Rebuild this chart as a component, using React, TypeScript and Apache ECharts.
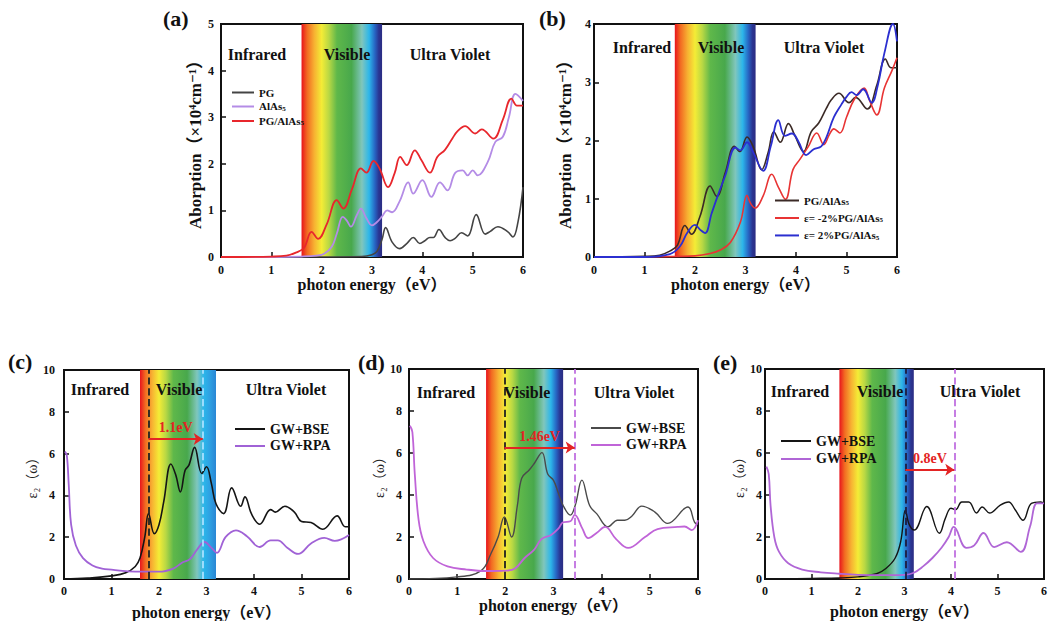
import React, { useEffect, useRef } from "react";
import * as echarts from "echarts";

const F = '"Liberation Serif", "DejaVu Serif", "Noto Sans CJK SC", serif';

// ---------- data (x: photon energy eV, y) ----------
const pgA: number[][] = [[0,0],[1,0],[2,0],[2.8,0.01],[3.0,0.05],[3.1,0.12],[3.2,0.38],[3.27,0.63],[3.4,0.32],[3.55,0.18],[3.7,0.3],[3.82,0.42],[3.95,0.29],[4.05,0.35],[4.15,0.42],[4.22,0.42],[4.33,0.59],[4.45,0.42],[4.55,0.35],[4.65,0.4],[4.78,0.52],[4.9,0.45],[5.07,0.91],[5.25,0.49],[5.35,0.55],[5.5,0.65],[5.7,0.54],[5.8,0.43],[5.9,0.75],[6.0,1.5]];
const alAs5A: number[][] = [[0,0],[1,0],[1.6,0.01],[1.9,0.03],[2.05,0.07],[2.2,0.22],[2.3,0.5],[2.42,0.86],[2.5,0.78],[2.58,0.65],[2.7,0.9],[2.78,1.04],[2.88,0.85],[3.0,0.68],[3.1,0.75],[3.2,0.87],[3.3,1.0],[3.4,0.96],[3.55,1.2],[3.72,1.6],[3.82,1.36],[4.0,1.65],[4.18,1.29],[4.35,1.6],[4.5,1.43],[4.65,1.8],[4.8,1.86],[4.9,1.75],[5.0,1.86],[5.1,1.75],[5.3,2.04],[5.45,2.47],[5.6,2.58],[5.72,3.0],[5.85,3.5],[6.0,3.35]];
const pgAlAs5: number[][] = [[0,0],[1,0.01],[1.3,0.03],[1.5,0.1],[1.65,0.2],[1.8,0.54],[1.93,0.39],[2.1,0.7],[2.3,1.22],[2.43,1.04],[2.6,1.45],[2.78,1.9],[2.89,1.81],[3.03,2.06],[3.15,1.9],[3.32,1.5],[3.45,1.8],[3.56,2.15],[3.69,1.97],[3.85,2.29],[3.98,2.08],[4.15,1.81],[4.3,2.15],[4.45,2.3],[4.6,2.55],[4.7,2.7],[4.85,2.81],[5.05,2.65],[5.18,2.74],[5.41,2.54],[5.6,2.95],[5.77,3.4],[5.88,3.25],[6.0,3.25]];
const strainMinus2: number[][] = [[0,0],[1,0],[2,0.02],[2.3,0.06],[2.5,0.12],[2.7,0.25],[2.9,0.6],[3.03,1.06],[3.1,0.92],[3.19,0.84],[3.35,1.05],[3.52,1.42],[3.65,1.2],[3.79,0.99],[3.94,1.5],[4.08,1.68],[4.24,1.89],[4.41,2.13],[4.55,1.93],[4.66,2.1],[4.75,2.2],[4.87,2.13],[5.0,2.4],[5.15,2.7],[5.35,2.9],[5.45,2.7],[5.6,2.44],[5.75,2.9],[5.9,3.2],[6.0,3.42]];
const strainPlus2: number[][] = [[0,0],[1,0],[1.5,0.05],[1.7,0.18],[1.85,0.42],[2.0,0.55],[2.1,0.47],[2.2,0.41],[2.33,0.75],[2.45,1.05],[2.6,1.4],[2.8,1.88],[2.9,1.83],[3.03,1.97],[3.15,1.8],[3.35,1.48],[3.5,1.9],[3.65,2.35],[3.78,2.08],[3.92,2.12],[4.05,1.98],[4.2,1.75],[4.35,1.85],[4.5,1.9],[4.6,2.05],[4.75,2.4],[4.9,2.62],[5.0,2.75],[5.1,2.83],[5.2,2.78],[5.33,2.88],[5.5,2.65],[5.62,2.95],[5.75,3.5],[5.92,4.0],[6.0,3.7]];

const bseC: number[][] = [[0,0],[0.5,0.05],[1.0,0.15],[1.3,0.3],[1.5,0.6],[1.6,1.0],[1.7,2.0],[1.78,3.13],[1.9,2.17],[2.0,2.6],[2.1,3.7],[2.25,5.5],[2.35,5.0],[2.45,4.17],[2.55,5.2],[2.63,5.45],[2.75,6.3],[2.9,5.05],[3.0,5.37],[3.1,4.6],[3.2,3.6],[3.36,3.13],[3.53,4.36],[3.72,3.48],[3.81,3.93],[3.95,3.1],[4.12,2.62],[4.35,3.32],[4.45,3.2],[4.65,3.48],[4.85,3.2],[5.0,2.75],[5.2,2.7],[5.45,2.38],[5.75,3.02],[5.92,2.5],[6.0,2.5]];
const rpaC: number[][] = [[0.02,6.1],[0.06,5.9],[0.1,4.5],[0.15,2.6],[0.25,1.6],[0.4,1.0],[0.6,0.65],[0.8,0.5],[1.0,0.45],[1.5,0.35],[2.0,0.35],[2.3,0.5],[2.5,0.8],[2.65,0.95],[2.8,1.4],[2.96,1.77],[3.1,1.5],[3.22,1.25],[3.4,2.0],[3.62,2.33],[3.85,2.05],[4.12,1.53],[4.35,1.85],[4.5,1.85],[4.7,1.5],[4.93,1.2],[5.2,1.7],[5.48,1.97],[5.7,1.82],[6.0,2.1]];
const bseD: number[][] = [[0,0],[1,0.1],[1.5,0.4],[1.7,1.2],[1.85,2.0],[1.98,2.96],[2.13,2.0],[2.25,3.5],[2.34,4.8],[2.5,5.2],[2.6,5.5],[2.76,6.02],[2.88,5.0],[3.0,4.7],[3.1,4.1],[3.2,3.5],[3.35,3.04],[3.45,3.5],[3.59,4.71],[3.75,3.5],[3.9,3.1],[4.13,2.48],[4.33,2.8],[4.48,2.8],[4.63,3.0],[4.83,3.47],[5.1,3.2],[5.37,2.65],[5.79,3.43],[5.93,2.7],[6.0,2.6]];
const rpaD: number[][] = [[0.02,7.3],[0.07,7.0],[0.12,5.0],[0.2,2.8],[0.3,1.8],[0.5,1.0],[0.8,0.6],[1.2,0.45],[1.6,0.38],[2.0,0.4],[2.2,0.5],[2.4,1.0],[2.6,1.4],[2.75,1.9],[2.95,2.1],[3.1,2.4],[3.2,2.7],[3.35,2.75],[3.44,3.05],[3.6,2.4],[3.72,1.95],[3.9,2.2],[4.07,2.48],[4.3,1.9],[4.55,1.48],[4.9,2.0],[5.16,2.38],[5.58,2.48],[5.72,2.5],[5.87,2.33],[6.0,2.8]];
const bseE: number[][] = [[0,0],[1,0.03],[1.6,0.05],[2.0,0.1],[2.4,0.25],[2.6,0.5],[2.8,1.0],[2.92,1.8],[3.02,3.28],[3.1,2.6],[3.21,2.33],[3.48,3.45],[3.75,2.18],[3.88,2.9],[4.0,3.37],[4.1,3.3],[4.23,3.67],[4.38,3.67],[4.55,3.14],[4.67,3.43],[4.83,3.14],[5.06,3.52],[5.24,3.67],[5.38,3.3],[5.55,2.8],[5.73,3.6],[5.93,3.67],[6.0,3.6]];
const rpaE: number[][] = [[0.03,5.35],[0.08,5.0],[0.12,3.5],[0.2,2.0],[0.3,1.3],[0.5,0.75],[0.8,0.45],[1.2,0.32],[1.6,0.25],[2.0,0.2],[2.5,0.18],[3.0,0.2],[3.2,0.3],[3.4,0.6],[3.6,1.0],[3.8,1.5],[3.95,2.0],[4.06,2.48],[4.33,1.48],[4.5,1.6],[4.7,2.19],[4.93,1.52],[5.2,1.75],[5.5,1.29],[5.7,2.5],[5.85,3.6],[6.0,3.6]];

const visibleRange = [1.6, 3.2];
const panelTitles = ["(a)", "(b)", "(c)", "(d)", "(e)"];
const regionNames = ["Infrared", "Visible", "Ultra Violet"];
const yMax = [5, 4, 10, 10, 10];
const yInterval = [1, 1, 2, 2, 2];
const excitonShift = [
  { from: 1.78, to: 2.92, y: 6.7, label: "1.1eV" },
  { from: 1.98, to: 3.44, y: 6.26, label: "1.46eV" },
  { from: 3.02, to: 4.07, y: 5.2, label: "0.8eV" },
];

// ---------- layout ----------
const grids = [
  { left: 221, top: 24, width: 302, height: 233 },
  { left: 594, top: 24, width: 303, height: 233 },
  { left: 64, top: 370, width: 285, height: 209 },
  { left: 409, top: 369, width: 289, height: 210 },
  { left: 765, top: 369, width: 288, height: 210 },
];

function band(endDark: boolean) {
  return new echarts.graphic.LinearGradient(0, 0, 1, 0, [
    { offset: 0, color: "#e8141c" },
    { offset: 0.07, color: "#f26a22" },
    { offset: 0.16, color: "#f7b232" },
    { offset: 0.25, color: "#f4ec36" },
    { offset: 0.34, color: "#b9d844" },
    { offset: 0.44, color: "#5fb84a" },
    { offset: 0.62, color: "#48a84c" },
    { offset: 0.75, color: "#80c6bc" },
    { offset: 0.84, color: "#2cb6ea" },
    endDark ? { offset: 0.91, color: "#2766c4" } : { offset: 0.92, color: "#2ea0e2" },
    endDark ? { offset: 0.96, color: "#2a3592" } : { offset: 1, color: "#2a86d4" },
    endDark ? { offset: 1, color: "#2b2c82" } : { offset: 1, color: "#2a86d4" },
  ]);
}

function bandArea(endDark: boolean) {
  return {
    silent: true,
    itemStyle: { color: band(endDark) },
    data: [[{ xAxis: visibleRange[0] }, { xAxis: visibleRange[1] }]],
  };
}

function line(name: string, data: number[][], color: string, idx: number, width = 1.6, extra: any = {}) {
  return {
    type: "line",
    name,
    data,
    xAxisIndex: idx,
    yAxisIndex: idx,
    symbol: "none",
    smooth: 0.4,
    lineStyle: { color, width },
    itemStyle: { color },
    z: 3,
    ...extra,
  };
}

function vDash(x: number, color: string) {
  return { xAxis: x, lineStyle: { color, type: "dashed", width: 1.8 } };
}

function arrow(k: number) {
  const s = excitonShift[k];
  return {
    silent: true,
    symbol: ["none", "arrow"],
    symbolSize: 9,
    lineStyle: { color: "#e32424", type: "solid", width: 1.8 },
    label: {
      show: true,
      position: "insideMiddleTop",
      formatter: s.label,
      color: "#e32424",
      fontFamily: F,
      fontWeight: "bold",
      fontSize: 14,
      distance: 4,
    },
    data: [[{ coord: [s.from, s.y] }, { coord: [s.to, s.y] }]],
  };
}

const tickMargins = [7, 3, 9, 7, 3];
const xNameGaps = [17, 17, 25, 18, 24];
const yNameGaps = [12, 20, 24, 14, 18];

export default function App() {
  const ref = useRef<HTMLDivElement>(null);
  useEffect(() => {
    const chart = echarts.init(ref.current!, null, { renderer: "svg" });

    const xAxis = grids.map((_, i) => ({
      type: "value",
      gridIndex: i,
      min: 0,
      max: 6,
      interval: 1,
      name: "photon energy（eV）",
      nameLocation: "middle",
      nameGap: xNameGaps[i],
      nameTextStyle: { fontFamily: F, fontWeight: "bold", fontSize: 16, color: "#111" },
      axisLine: { show: true, onZero: false, lineStyle: { color: "#111", width: 2 } },
      axisTick: { show: true, inside: true, length: 5, lineStyle: { color: "#111", width: 1.5 } },
      axisLabel: { color: "#111", fontFamily: F, fontWeight: "bold", fontSize: 12, margin: i < 2 ? 7 : 6 },
      splitLine: { show: false },
    }));

    const yAxis = grids.map((_, i) => ({
      type: "value",
      gridIndex: i,
      min: 0,
      max: yMax[i],
      interval: yInterval[i],
      name: i < 2 ? "Aborption（×10⁴cm⁻¹）" : "ε₂（ω）",
      nameLocation: "middle",
      nameGap: yNameGaps[i],
      nameTextStyle:
        i < 2
          ? { fontFamily: F, fontWeight: "bold", fontSize: 17, color: "#111" }
          : { fontFamily: F, fontWeight: "normal", fontSize: 14, color: "#222" },
      axisLine: { show: true, onZero: false, lineStyle: { color: "#111", width: 2 } },
      axisTick: { show: true, inside: true, length: 5, lineStyle: { color: "#111", width: 1.5 } },
      axisLabel: { color: "#111", fontFamily: F, fontWeight: "bold", fontSize: 12, margin: tickMargins[i] },
      splitLine: { show: false },
    }));

    const series: any[] = [
      // (a)
      line("PG", pgA, "#444444", 0, 1.6, { markArea: bandArea(true) }),
      line("AlAs5", alAs5A, "#b48ce6", 0, 1.8),
      line("PG/AlAs5", pgAlAs5, "#e8262c", 0, 1.8),
      // (b)
      line("PG/AlAs5", pgAlAs5, "#3b2a26", 1, 1.6, { markArea: bandArea(true) }),
      line("ε= -2%PG/AlAs5", strainMinus2, "#e83434", 1, 1.6),
      line("ε= 2%PG/AlAs5", strainPlus2, "#2b2fd0", 1, 1.8),
      // (c)
      line("GW+BSE", bseC, "#151515", 2, 1.6, {
        markArea: bandArea(false),
        markLine: { silent: true, symbol: ["none", "none"], label: { show: false }, data: [vDash(1.78, "#222222"), vDash(2.92, "#a8e0ff")] },
      }),
      line("GW+RPA", rpaC, "#a062d6", 2, 1.8, { markLine: arrow(0) }),
      // (d)
      line("GW+BSE", bseD, "#4a4a4a", 3, 1.4, {
        markArea: bandArea(true),
        markLine: { silent: true, symbol: ["none", "none"], label: { show: false }, data: [vDash(1.98, "#222222"), vDash(3.44, "#c070e0")] },
      }),
      line("GW+RPA", rpaD, "#c064d8", 3, 1.8, { markLine: arrow(1) }),
      // (e)
      line("GW+BSE", bseE, "#151515", 4, 1.4, {
        markArea: bandArea(true),
        markLine: { silent: true, symbol: ["none", "none"], label: { show: false }, data: [vDash(3.02, "#1c1c40"), vDash(4.07, "#c070e0")] },
      }),
      line("GW+RPA", rpaE, "#b066d6", 4, 1.8, { markLine: arrow(2) }),
    ];

    const sub = (n: string) => n.replace(/AlAs5$/, "AlAs{s|5}");
    const legendText = (size: number) => ({
      fontFamily: F,
      fontWeight: "bold",
      fontSize: size,
      color: "#111",
      rich: { s: { fontFamily: F, fontWeight: "bold", fontSize: Math.round(size * 0.65), color: "#111", padding: [size * 0.45, 0, 0, 0] } },
    });
    const li = (name: string, color: string) => ({ name, icon: "rect", itemStyle: { color } });

    const legend = [
      { left: 227, top: 82, orient: "vertical", itemGap: 3, itemWidth: 22, itemHeight: 2, formatter: sub, textStyle: legendText(11),
        data: [li("PG", "#444444"), li("AlAs5", "#b48ce6"), li("PG/AlAs5", "#e8262c")] },
      { left: 770, top: 190, orient: "vertical", itemGap: 6, itemWidth: 24, itemHeight: 2, formatter: sub, textStyle: legendText(11),
        data: [li("PG/AlAs5", "#3b2a26"), li("ε= -2%PG/AlAs5", "#e83434"), li("ε= 2%PG/AlAs5", "#2b2fd0")] },
      { left: 230, top: 417, orient: "vertical", itemGap: 3, itemWidth: 30, itemHeight: 2, textStyle: legendText(14),
        data: [li("GW+BSE", "#151515"), li("GW+RPA", "#a062d6")] },
      { left: 586, top: 416, orient: "vertical", itemGap: 3, itemWidth: 30, itemHeight: 2, textStyle: legendText(14),
        data: [li("GW+BSE", "#4a4a4a"), li("GW+RPA", "#c064d8")] },
      { left: 776, top: 429, orient: "vertical", itemGap: 4, itemWidth: 30, itemHeight: 2, textStyle: legendText(14),
        data: [li("GW+BSE", "#151515"), li("GW+RPA", "#b066d6")] },
    ];

    const titlePos = [
      [163, 7], [539, 7], [8, 350], [358, 351], [713, 351],
    ];
    const title = panelTitles.map((t, i) => ({
      text: t,
      left: titlePos[i][0],
      top: titlePos[i][1],
      padding: 0,
      textStyle: { fontFamily: F, fontWeight: "bold", fontSize: 22, color: "#111" },
    }));

    const regionPos = [
      { y: 54, xs: [257, 347, 450] },
      { y: 47, xs: [642, 721, 824] },
      { y: 389, xs: [100, 179, 286] },
      { y: 392, xs: [446, 527, 634] },
      { y: 391, xs: [800, 880, 980] },
    ];
    const graphic: any[] = [];
    regionPos.forEach((p) => {
      regionNames.forEach((n, j) => {
        graphic.push({
          type: "text",
          x: p.xs[j],
          y: p.y,
          z: 20,
          silent: true,
          style: {
            text: n,
            fill: "#111",
            fontFamily: F,
            fontWeight: "bold",
            fontSize: 16,
            textAlign: "center",
            textVerticalAlign: "middle",
          },
        });
      });
    });

    chart.setOption({
      animation: false,
      backgroundColor: "#ffffff",
      title,
      legend,
      grid: grids.map((g) => ({ ...g, show: true, borderColor: "#111", borderWidth: 2, backgroundColor: "transparent", containLabel: false })),
      xAxis,
      yAxis,
      series,
      graphic,
    });
    return () => chart.dispose();
  }, []);
  return <div ref={ref} style={{ position: "absolute", left: 0, top: 0, width: 1050, height: 621 }} />;
}
